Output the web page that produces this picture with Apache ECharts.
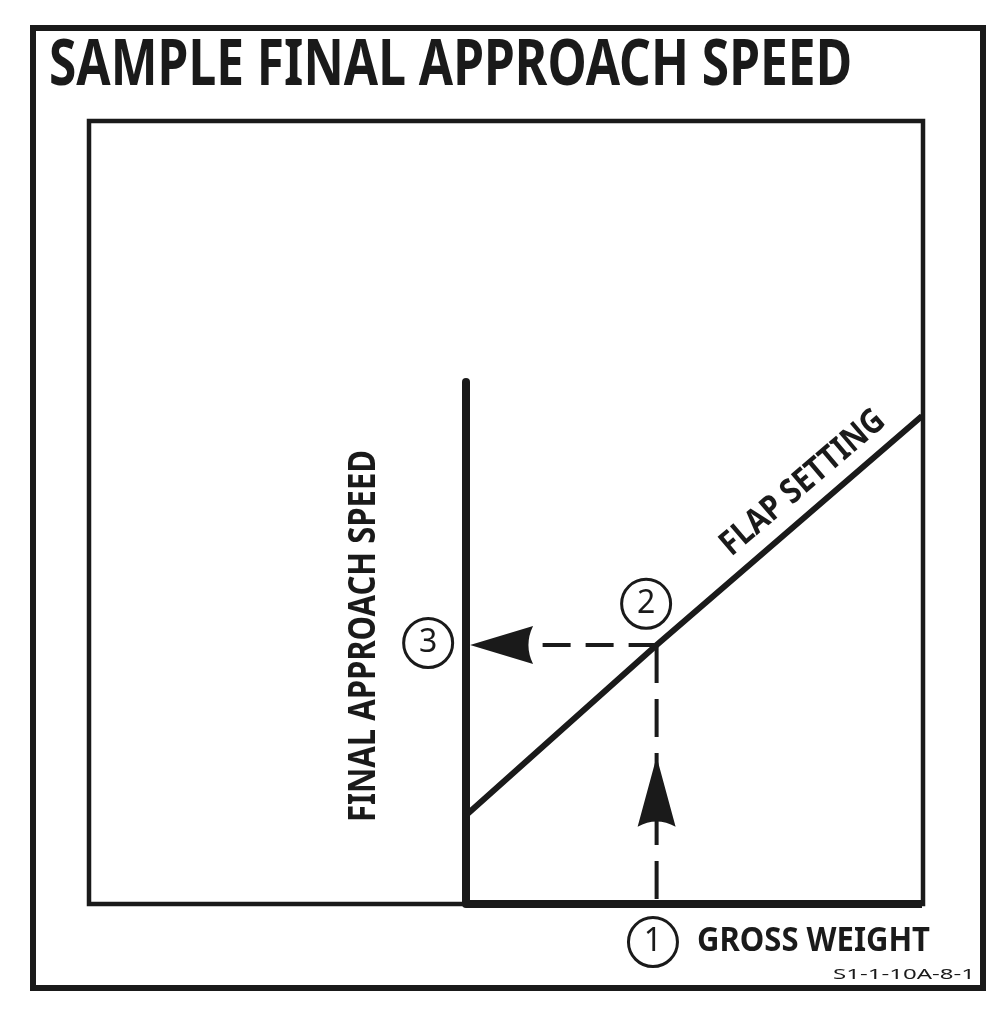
<!DOCTYPE html>
<html>
<head>
<meta charset="utf-8">
<script src="https://cdn.jsdelivr.net/npm/echarts@6/dist/echarts.min.js"></script>
<style>
  html, body { margin: 0; padding: 0; background: #ffffff; }
  #chart { width: 1005px; height: 1020px; }
</style>
</head>
<body>
<div id="chart"></div>
<script>
// ---- Data (chart units: x = gross weight 0..100, y = approach speed 0..100) ----
const titleText = 'SAMPLE FINAL APPROACH SPEED';
const yAxisTitle = 'FINAL APPROACH SPEED';
const xAxisTitle = 'GROSS WEIGHT';
const curveName = 'FLAP SETTING';
const figureCode = 'S1-1-10A-8-1';

const flapX = [0, 41.8, 100];
const flapY = [17.0, 49.6, 93.5];

const guideUpX = [41.8, 41.8];
const guideUpY = [49.6, 0];
const guideLeftX = [41.8, 3];
const guideLeftY = [49.6, 49.6];

const arrowX = [7.8, 41.8];
const arrowY = [49.6, 21.5];
const arrowDir = ['left', 'up'];

const stepLabels = ['1', '2', '3'];
const stepX = [41.0, 39.5, -8.3];
const stepY = [-7.3, 57.5, 50.0];

// ---- helpers ----
const INK = '#1a1a1a';
const FONT_FAMILY = '"Noto Sans", "DejaVu Sans", sans-serif';
const ctx = document.createElement('canvas').getContext('2d');
function fit(text, font, target) {
  ctx.font = font;
  return target / ctx.measureText(text).width;
}
function zip(xs, ys) { return xs.map((x, i) => [x, ys[i]]); }

const arrowPath = 'path://M20,0 L40,68 Q20,58 0,68 Z';

const fTitle = 'bold 64px ' + FONT_FAMILY;
const fYName = 'bold 38px ' + FONT_FAMILY;
const fFlap = 'bold 34px ' + FONT_FAMILY;
const fGross = 'bold 34px ' + FONT_FAMILY;
const fCode = 'normal 14px ' + FONT_FAMILY;

function textEl(text, font, x, y, targetW, rotation) {
  return {
    type: 'text', x: x, y: y, rotation: rotation || 0,
    scaleX: fit(text, font, targetW), scaleY: 1,
    style: { text: text, font: font, fill: INK, textAlign: 'center', textVerticalAlign: 'middle' },
    z: 10
  };
}

const chart = echarts.init(document.getElementById('chart'));
chart.setOption({
  backgroundColor: '#ffffff',
  animation: false,
  grid: { left: 466, right: 83, top: 382, bottom: 116 },
  xAxis: {
    type: 'value', min: 0, max: 100,
    axisLine: { show: true, onZero: false, lineStyle: { color: INK, width: 8, cap: 'butt' } },
    axisTick: { show: false }, axisLabel: { show: false }, splitLine: { show: false }
  },
  yAxis: {
    type: 'value', min: 0, max: 100,
    axisLine: { show: true, onZero: false, lineStyle: { color: INK, width: 8, cap: 'round' } },
    axisTick: { show: false }, axisLabel: { show: false }, splitLine: { show: false }
  },
  graphic: [
    { type: 'rect', shape: { x: 33, y: 28, width: 950, height: 960 },
      style: { fill: null, stroke: INK, lineWidth: 6 }, z: 1 },
    { type: 'rect', shape: { x: 89, y: 121, width: 834, height: 783 },
      style: { fill: null, stroke: INK, lineWidth: 4.5 }, z: 1 },
    textEl(titleText, fTitle, 450.5, 67, 803, 0),
    textEl(yAxisTitle, fYName, 364, 636, 372, Math.PI / 2),
    textEl(curveName, fFlap, 803, 483, 205, 40.5 * Math.PI / 180),
    textEl(xAxisTitle, fGross, 813.5, 941, 233, 0),
    textEl(figureCode, fCode, 904, 975, 142, 0)
  ],
  series: [
    {
      type: 'line', name: curveName, data: zip(flapX, flapY),
      symbol: 'none', clip: false,
      lineStyle: { color: INK, width: 6 }, z: 3
    },
    {
      type: 'line', data: zip(guideUpX, guideUpY),
      symbol: 'none', clip: false,
      lineStyle: { color: INK, width: 4, type: [38, 16] }, z: 2
    },
    {
      type: 'line', data: zip(guideLeftX, guideLeftY),
      symbol: 'none', clip: false,
      lineStyle: { color: INK, width: 4, type: [28, 15] }, z: 2
    },
    {
      type: 'scatter', clip: false, z: 4,
      data: arrowX.map((x, i) => ({
        value: [x, arrowY[i]],
        symbol: arrowPath,
        symbolSize: arrowDir[i] === 'up' ? [38, 70] : [38, 63],
        symbolRotate: arrowDir[i] === 'up' ? 0 : 90
      })),
      itemStyle: { color: INK, opacity: 1 }
    },
    {
      type: 'scatter', clip: false, z: 5,
      data: stepLabels.map((t, i) => ({ value: [stepX[i], stepY[i]], name: t })),
      symbol: 'circle', symbolSize: 49,
      itemStyle: { color: '#ffffff', borderColor: INK, borderWidth: 3, opacity: 1 },
      label: {
        show: true, position: 'inside', formatter: '{b}',
        color: INK, fontSize: 32, fontFamily: 'Noto Sans', fontWeight: 'normal'
      }
    }
  ]
});
</script>
</body>
</html>
